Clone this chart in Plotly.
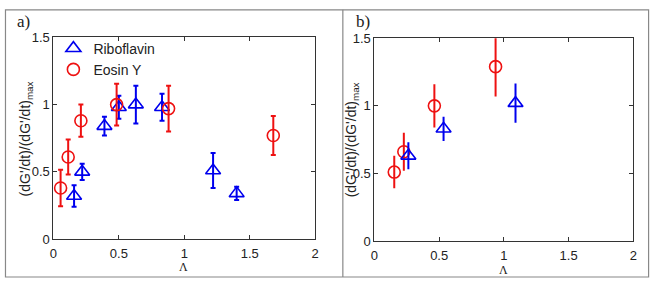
import plotly.graph_objects as go

# Panel a data
a_rib_x = [0.158, 0.22, 0.39, 0.50, 0.63, 0.83, 1.22, 1.40]
a_rib_y = [0.32, 0.50, 0.84, 0.98, 1.00, 0.98, 0.51, 0.34]
a_rib_e = [0.08, 0.06, 0.07, 0.085, 0.14, 0.10, 0.13, 0.05]
a_eos_x = [0.055, 0.113, 0.21, 0.483, 0.88, 1.68]
a_eos_y = [0.38, 0.61, 0.88, 1.00, 0.97, 0.77]
a_eos_e = [0.135, 0.13, 0.12, 0.155, 0.17, 0.145]

# Panel b data
b_rib_x = [0.262, 0.534, 1.09]
b_rib_y = [0.63, 0.83, 1.02]
b_rib_e = [0.10, 0.09, 0.145]
b_eos_x = [0.153, 0.227, 0.463, 0.936]
b_eos_y = [0.51, 0.66, 1.00, 1.29]
b_eos_e = [0.12, 0.14, 0.16, 0.22]

x_ticks = [0, 0.5, 1, 1.5, 2]
x_tick_text = ["0", "0.5", "1", "1.5", "2"]
y_ticks = [0, 0.5, 1, 1.5]
y_tick_text = ["0", "0.5", "1", "1.5"]

series_names = ["Riboflavin", "Eosin Y"]
BLUE = "#0000ee"
RED = "#ee1111"

fig = go.Figure()

def add(x, y, e, color, symbol, size, xa, ya, name, show, cap):
    fig.add_trace(go.Scatter(
        x=x, y=y, mode="markers", name=name, showlegend=show,
        xaxis=xa, yaxis=ya,
        marker=dict(symbol=symbol, size=size, color=color,
                    line=dict(color=color, width=1.6)),
        error_y=dict(type="data", array=e, visible=True, color=color,
                     thickness=2, width=cap),
        cliponaxis=True,
    ))

add(a_rib_x, a_rib_y, a_rib_e, BLUE, "triangle-up-open", 13, "x", "y", series_names[0], True, 2.5)
add(a_eos_x, a_eos_y, a_eos_e, RED, "circle-open", 12, "x", "y", series_names[1], True, 2.5)
add(b_eos_x, b_eos_y, b_eos_e, RED, "circle-open", 12, "x2", "y2", series_names[1], False, 0)
add(b_rib_x, b_rib_y, b_rib_e, BLUE, "triangle-up-open", 13, "x2", "y2", series_names[0], False, 0)

W, H = 660, 285
tickfont = dict(family="Liberation Sans, Arial, sans-serif", size=13, color="#222")

def xaxis(domain, anchor):
    return dict(domain=domain, anchor=anchor, range=[0, 2], tickvals=x_ticks,
                ticktext=x_tick_text, ticks="inside", ticklen=4, tickcolor="#333",
                showline=True, linecolor="#333", linewidth=1, mirror="allticks",
                showgrid=False, zeroline=False, tickfont=tickfont, fixedrange=True,
                ticklabelstandoff=2)

def yaxis(domain, anchor):
    return dict(domain=domain, anchor=anchor, range=[0, 1.5], tickvals=y_ticks,
                ticktext=y_tick_text, ticks="inside", ticklen=4, tickcolor="#333",
                showline=True, linecolor="#333", linewidth=1, mirror="allticks",
                showgrid=False, zeroline=False, tickfont=tickfont, fixedrange=True)

fig.update_layout(
    width=W, height=H,
    margin=dict(l=0, r=0, t=0, b=0),
    paper_bgcolor="white", plot_bgcolor="white",
    xaxis=xaxis([50 / W, 315 / W], "y"),
    yaxis=yaxis([(H - 245) / H, (H - 32) / H], "x"),
    xaxis2=xaxis([375 / W, 637 / W], "y2"),
    yaxis2=yaxis([(H - 247) / H, (H - 33) / H], "x2"),
    legend=dict(x=50 / W, y=1 - 27 / H, xanchor="left", yanchor="top",
                bgcolor="rgba(0,0,0,0)", font=dict(family="Liberation Sans, Arial, sans-serif",
                size=14, color="#222"), tracegroupgap=0, itemwidth=30),
)

ylabel = "(dG'/dt)/(dG'/dt)<sub>max</sub>"
labfont = dict(family="Liberation Sans, Arial, sans-serif", size=14, color="#222")
serif = dict(family="Liberation Serif, Times New Roman, serif", size=17, color="#222")
lamfont = dict(family="Liberation Serif, serif", size=12, color="#222")
anns = [
    dict(text=ylabel, x=22 / W, y=1 - 139 / H, textangle=-90, font=labfont),
    dict(text=ylabel, x=352 / W, y=1 - 140 / H, textangle=-90, font=labfont),
    dict(text="Λ", x=182 / W, y=1 - 274 / H, font=lamfont),
    dict(text="Λ", x=506 / W, y=1 - 278 / H, font=lamfont),
    dict(text="a)", x=20 / W, y=1 - 15 / H, font=serif),
    dict(text="b)", x=363 / W, y=1 - 15 / H, font=serif),
]
for a in anns:
    a.update(xref="paper", yref="paper", showarrow=False, xanchor="center", yanchor="middle")
    fig.add_annotation(**a)

# outer frames
fig.add_shape(type="rect", xref="paper", yref="paper", x0=1.5 / W, x1=652.5 / W,
              y0=0, y1=1 - 3 / H, line=dict(color="#888", width=1.2))
fig.add_shape(type="line", xref="paper", yref="paper", x0=343 / W, x1=343 / W,
              y0=0, y1=1 - 3 / H, line=dict(color="#888", width=1.2))

fig.write_html("out.html")
